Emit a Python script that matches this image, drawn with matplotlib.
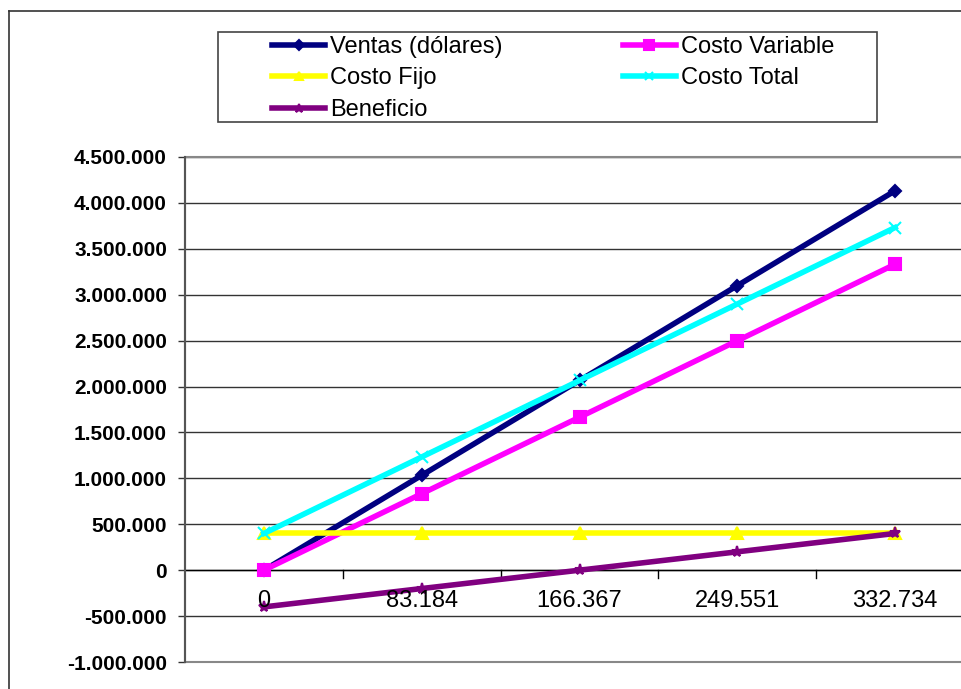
import numpy as np
import matplotlib.pyplot as plt
from matplotlib.patches import Rectangle
from matplotlib.lines import Line2D

plt.rcParams['font.family'] = ['Liberation Sans', 'DejaVu Sans']

# unidades vendidas (categorias del eje x)
unidades = ['0', '83.184', '166.367', '249.551', '332.734']

ventas = [0, 1033000, 2066000, 3099000, 4132000]
costo_variable = [0, 833000, 1666000, 2499000, 3332000]
costo_fijo = [400000, 400000, 400000, 400000, 400000]
costo_total = [400000, 1233000, 2066000, 2899000, 3732000]
beneficio = [-400000, -200000, 0, 200000, 400000]

W, H = 961, 689
fig = plt.figure(figsize=(W / 100, H / 100), dpi=100)

# borde exterior del grafico (solo izquierda y arriba quedan dentro)
fig.add_artist(Line2D([9 / W, 9 / W], [0, 1 - 11 / H], transform=fig.transFigure,
                      color='#333333', lw=1.2))
fig.add_artist(Line2D([9 / W, 1], [1 - 11 / H, 1 - 11 / H], transform=fig.transFigure,
                      color='#333333', lw=1.2))

# area de trazado
left, right, top, bottom = 185, 974, 157, 662
ax = fig.add_axes([left / W, 1 - bottom / H, (right - left) / W, (bottom - top) / H])

x = np.arange(len(unidades))
series = [
    ('Ventas (dólares)', ventas, '#000080', 'D', 6),
    ('Costo Variable', costo_variable, '#FF00FF', 's', 9),
    ('Costo Fijo', costo_fijo, '#FFFF00', '^', 8),
    ('Costo Total', costo_total, '#00FFFF', 'x', 8),
    ('Beneficio', beneficio, '#800080', '*', 8),
]
lines = {}
for nombre, valores, color, marker, ms in series:
    ln, = ax.plot(x, valores, color=color, lw=4, marker=marker, ms=ms,
                  mec=color, mfc=color, mew=1.5, label=nombre, zorder=3)
    lines[nombre] = ln

ax.set_xlim(-0.5, 4.5)
ax.set_ylim(-1000000, 4500000)

# eje y
yt = np.arange(-1000000, 4500001, 500000)
ax.set_yticks(yt)
ax.set_yticklabels(['{:,}'.format(v).replace(',', '.') for v in yt],
                   fontsize=15, fontweight='bold')
ax.tick_params(axis='y', direction='out', length=5, width=1, pad=8, color='#333333')
ax.yaxis.grid(True, color='#333333', lw=1)
ax.set_axisbelow(True)

# eje x cruzando en cero
for s in ['top', 'right', 'bottom']:
    ax.spines[s].set_visible(False)
ax.spines['left'].set_color('#555555')
ax.spines['left'].set_linewidth(1.5)
ax.axhline(0, color='black', lw=1, zorder=2)
ax.set_xticks([])
for xm in x[:-1] + 0.5:
    ax.plot([xm, xm], [0, -90000], color='black', lw=1, zorder=2, clip_on=False)
for xi, lab in zip(x, unidades):
    ax.text(xi, -220000, lab, ha='center', va='top', fontsize=17, zorder=4)

# borde gris del area de trazado
ax.add_patch(Rectangle((0, 0), 1, 1, transform=ax.transAxes, fill=False,
                       edgecolor='#888888', lw=1.5, clip_on=False, zorder=1))

# leyenda en dos columnas, con su marco aparte
fig.add_artist(Rectangle((218 / W, 1 - 122 / H), (877 - 218) / W, 90 / H,
                         transform=fig.transFigure, fill=False,
                         edgecolor='#444444', lw=1.2))
orden = ['Ventas (dólares)', 'Costo Fijo', 'Beneficio', 'Costo Variable', 'Costo Total']
leg = fig.legend([lines[n] for n in orden], orden, ncol=2,
                 loc='upper left', bbox_to_anchor=(272 / W, 1 - 36 / H),
                 fontsize=17, frameon=False, handlelength=2.25, handletextpad=0.2,
                 labelspacing=0.4, columnspacing=5.1, borderpad=0,
                 borderaxespad=0, markerscale=0.8)

fig.savefig('out.png', dpi=100)
